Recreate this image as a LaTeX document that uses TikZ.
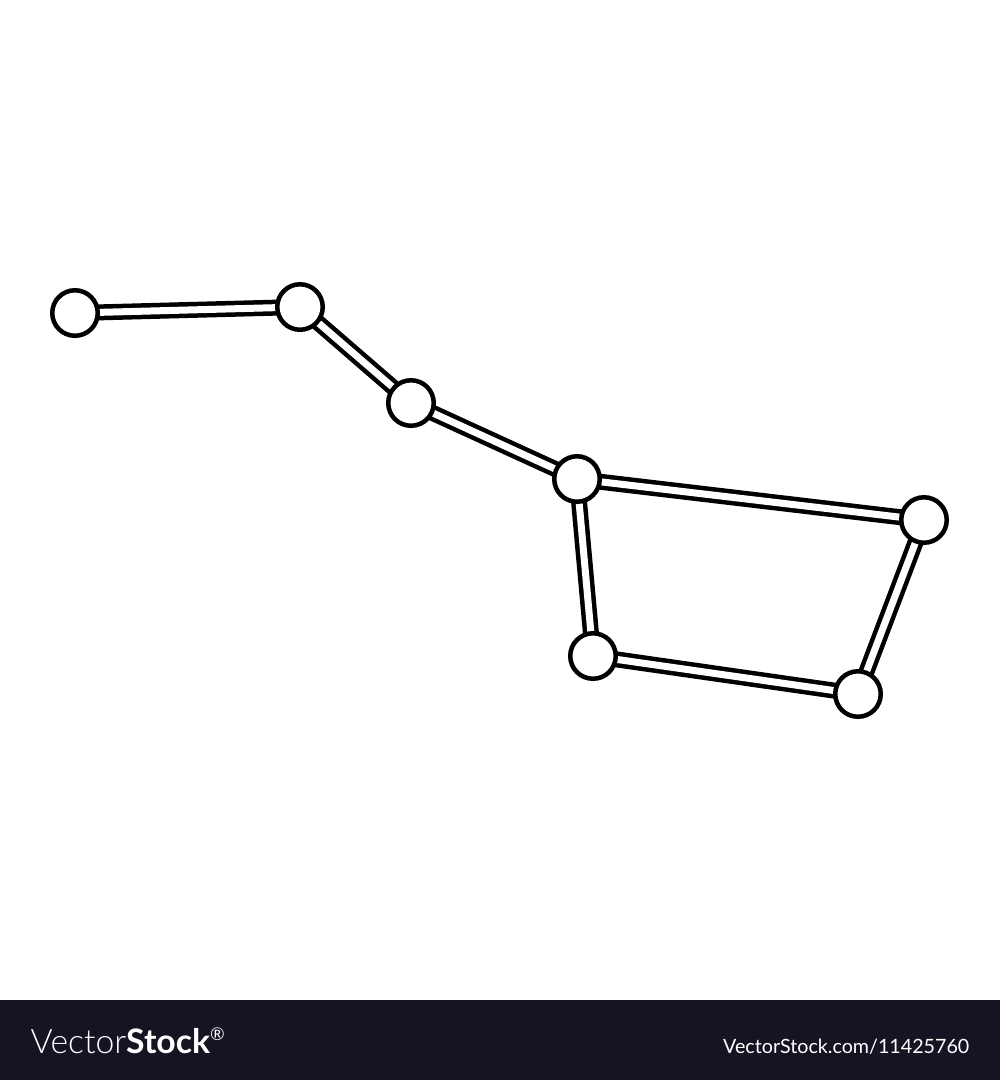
\documentclass[tikz,border=0pt]{standalone}
\usepackage{fontspec}
\newfontfamily\lato{Lato}
\newfontfamily\latolight{Lato Light}
\usetikzlibrary{backgrounds}
\definecolor{band}{RGB}{20,20,35}
\begin{document}
\begin{tikzpicture}[x=0.1mm,y=-0.1mm,
  star/.style={circle,draw=black,fill=white,line width=0.45mm,minimum size=4.55mm,inner sep=0pt},
  link/.style={draw=black,line width=0.45mm,double=white,double distance=0.7mm}]
\useasboundingbox (0,0) rectangle (1000,1080);
\node[star] (a) at (75,313) {};
\node[star] (b) at (300,307) {};
\node[star] (c) at (411,403) {};
\node[star] (d) at (577,479) {};
\node[star] (e) at (924,520) {};
\node[star] (f) at (593,656) {};
\node[star] (g) at (858,694) {};
\begin{scope}[on background layer]
  \fill[white] (0,0) rectangle (1000,1000);
  \fill[band] (0,1000) rectangle (1000,1080);
  \draw[link] (a.center) -- (b.center);
  \draw[link] (b.center) -- (c.center);
  \draw[link] (c.center) -- (d.center);
  \draw[link] (d.center) -- (e.center);
  \draw[link] (e.center) -- (g.center);
  \draw[link] (g.center) -- (f.center);
  \draw[link] (f.center) -- (d.center);
\end{scope}
\node[anchor=base west,text=white,inner sep=0pt,font=\fontsize{9.6pt}{9.6pt}\selectfont] (brand) at (30,1053) {{\latolight Vector}{\lato\bfseries Stock}\textsuperscript{\lato\fontsize{5pt}{5pt}\selectfont ®}};
\node[anchor=base east,text=white,inner sep=0pt,font=\lato\fontsize{5.6pt}{5.6pt}\selectfont] (url) at (970,1053) {VectorStock.com/11425760};
\end{tikzpicture}
\end{document}
